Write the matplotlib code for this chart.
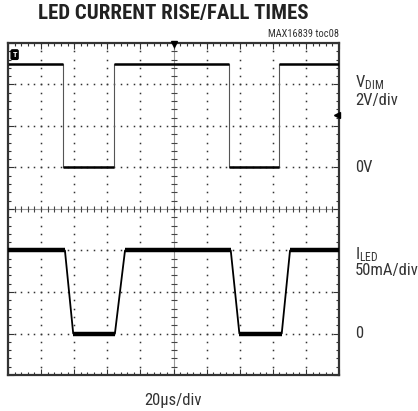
import numpy as np
import matplotlib
matplotlib.use('Agg')
import matplotlib.pyplot as plt

# narrow sans like the datasheet font
plt.rcParams['font.family'] = ['Roboto Condensed', 'DejaVu Sans']
plt.rcParams['mathtext.default'] = 'regular'

# data (time in us, 20us/div)
vdim_t = [0, 33.4, 33.4, 64.0, 64.0, 133.8, 133.8, 163.8, 163.8, 200]
vdim_v = [5, 5, 0, 0, 5, 5, 0, 0, 5, 5]          # volts, 2V/div
iled_t = [0, 34.4, 39.4, 64.6, 70.7, 134.6, 139.8, 165.4, 170.4, 200]
iled_i = [100, 100, 0, 0, 100, 100, 0, 0, 100, 100]  # mA, 50mA/div

# screen setup: 10 x 8 divisions
t_div, v_div, i_div = 20.0, 2.0, 50.0
v_zero, i_zero = 5.0, 1.0

fig = plt.figure(figsize=(4.18, 4.11), dpi=100)
ax = fig.add_axes([8/418, 1-375/411, 331/418, 332/411])
ax.set_xlim(0, 10)
ax.set_ylim(0, 8)

# dotted graticule
for k in range(1, 10):
    if k == 5:
        continue
    ys = np.arange(0, 8.01, 0.2)
    ax.plot(np.full_like(ys, k), ys, ls='none', marker='s', ms=1.1, mew=0, color='#333333', zorder=1)
for k in range(1, 8):
    if k == 4:
        continue
    xs = np.arange(0, 10.01, 0.2)
    ax.plot(xs, np.full_like(xs, k), ls='none', marker='s', ms=1.1, mew=0, color='#333333', zorder=1)

# center lines with tick marks
ax.axhline(4, color='#999999', lw=0.8, zorder=1)
ax.axvline(5, color='#999999', lw=0.8, zorder=1)
xs = np.arange(0, 10.01, 0.2)
ax.plot(xs, np.full_like(xs, 4), ls='none', marker='|', ms=4, mew=0.8, color='#444444', zorder=1)
ys = np.arange(0, 8.01, 0.2)
ax.plot(np.full_like(ys, 5), ys, ls='none', marker='_', ms=4, mew=0.8, color='#444444', zorder=1)

ax.set_xticks(np.arange(0, 11, 1))
ax.set_yticks(np.arange(0, 9, 1))
ax.set_xticks(np.arange(0, 10.01, 0.2), minor=True)
ax.set_yticks(np.arange(0, 8.01, 0.2), minor=True)
ax.tick_params(which='both', direction='in', top=True, right=True,
               labelbottom=False, labelleft=False, color='#333333')
ax.tick_params(which='major', length=4, width=0.8)
ax.tick_params(which='minor', length=2, width=0.8)
for s in ax.spines.values():
    s.set_linewidth(1.6)
    s.set_color('#333333')

# VDIM trace
vx = np.array(vdim_t) / t_div
vy = v_zero + np.array(vdim_v) / v_div
ax.plot(vx, vy, color='#555555', lw=0.8, zorder=3)
for i in range(0, len(vx) - 1, 2):
    ax.plot(vx[i:i+2], vy[i:i+2], color='black', lw=1.8, solid_capstyle='butt', zorder=4)

# ILED trace
ix = np.array(iled_t) / t_div
iy = i_zero + np.array(iled_i) / i_div
ax.plot(ix, iy, color='black', lw=1.3, zorder=3)
for i in range(0, len(ix) - 1, 2):
    ax.plot(ix[i:i+2], iy[i:i+2], color='black', lw=3.2, solid_capstyle='butt', zorder=4)

# markers: trigger point, trigger level, channel marker
ax.plot([5], [7.97], marker='v', ms=5, color='black', clip_on=False, zorder=5)
ax.plot([9.93], [6.27], marker='<', ms=5, color='black', clip_on=False, zorder=5)
ax.text(0.2, 7.72, 'T', ha='center', va='center', color='white', fontsize=6, fontweight='bold',
        bbox=dict(boxstyle='round,pad=0.15', fc='black', ec='black'), zorder=6)

# texts
fig.text(173/418, 1-14/411, 'LED CURRENT RISE/FALL TIMES', ha='center', va='center',
         fontsize=15, fontweight='bold', color='#222222')
fig.text(339/418, 1-37/411, 'MAX16839 toc08', ha='right', va='baseline', fontsize=7.5, color='#333333')
lx = 355/418
fs = 12
fig.text(lx, 1-83/411, r'$V_{DIM}$', ha='left', va='center', fontsize=fs, color='#333333')
fig.text(lx, 1-101/411, '2V/div', ha='left', va='center', fontsize=fs, color='#333333')
fig.text(lx, 1-168/411, '0V', ha='left', va='center', fontsize=fs, color='#333333')
fig.text(lx, 1-255/411, r'$I_{LED}$', ha='left', va='center', fontsize=fs, color='#333333')
fig.text(lx, 1-271/411, '50mA/div', ha='left', va='center', fontsize=fs, color='#333333')
fig.text(lx, 1-333/411, '0', ha='left', va='center', fontsize=fs, color='#333333')
fig.text(173/418, 1-400/411, '20µs/div', ha='center', va='center', fontsize=fs, color='#333333')

fig.savefig('out.png', dpi=100)
